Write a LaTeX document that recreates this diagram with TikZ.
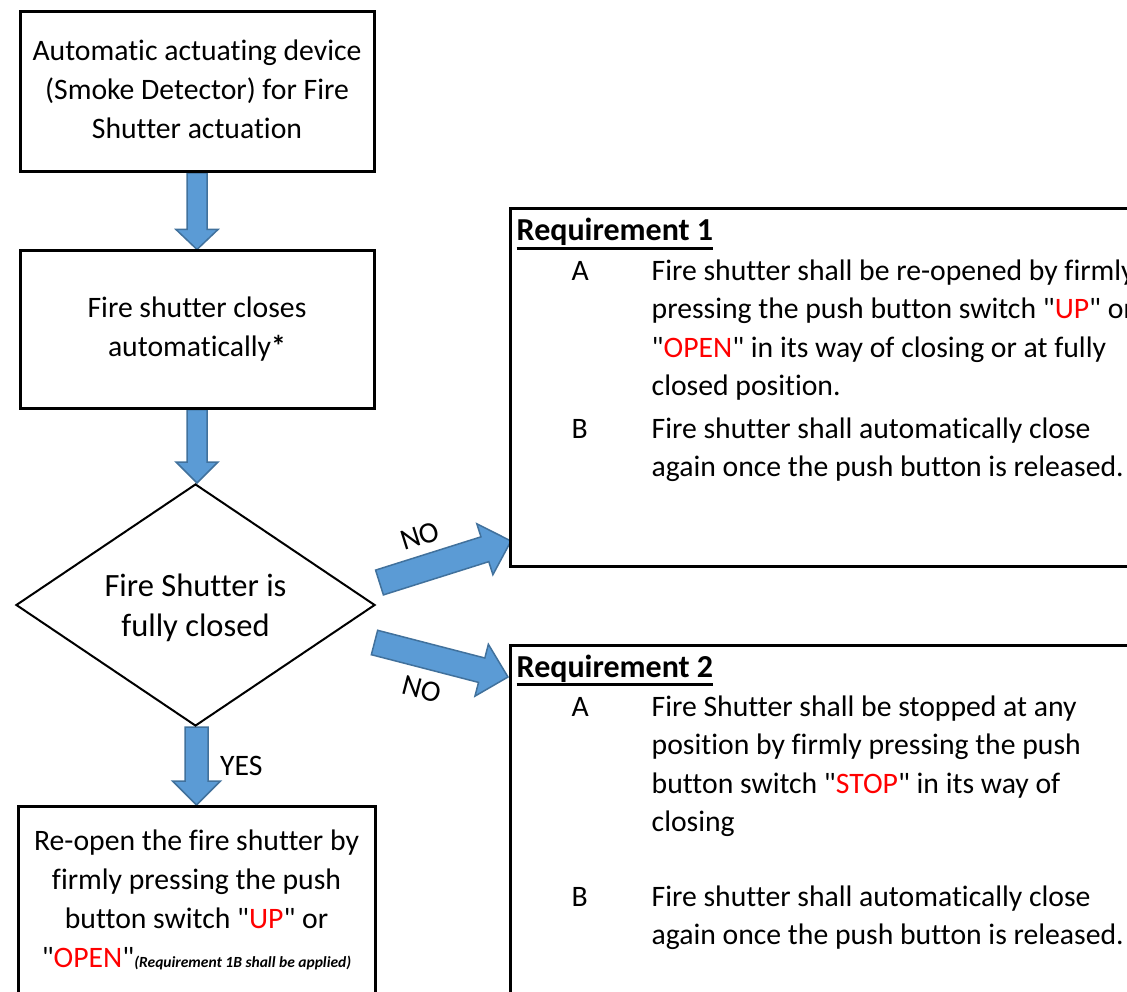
\documentclass[tikz,border=0pt]{standalone}
\usepackage{fontspec}
\setmainfont{Carlito}[Ligatures={TeXOff,NoCommon}]
\usetikzlibrary{shapes.geometric,calc}
\definecolor{arrfill}{HTML}{5B9BD5}
\definecolor{arredge}{HTML}{41719C}
\pgfdeclarelayer{bg}
\pgfsetlayers{bg,main}
% #1 start, #2 end, #3 half shaft width, #4 half head width, #5 head length
\newcommand\blockarrow[5]{%
  \begin{pgfonlayer}{bg}
  \coordinate (bah) at ($(#2)!#5!(#1)$);
  \draw[blockarr] ($(#1)!#3!90:(#2)$) -- ($(bah)!#3!90:(#2)$) -- ($(bah)!#4!90:(#2)$)
     -- (#2) -- ($(bah)!#4!-90:(#2)$) -- ($(bah)!#3!-90:(#2)$) -- ($(#1)!#3!-90:(#2)$) -- cycle;
  \end{pgfonlayer}}
\begin{document}
\begin{tikzpicture}[x=1pt,y=-1pt,
  box/.style={draw, line width=3pt, inner sep=0pt, align=center, font=\fontsize{29.7}{39}\selectfont},
  reqbox/.style={draw, line width=3pt, inner sep=0pt},
  lbl/.style={inner sep=0pt, font=\fontsize{29.7}{38.5}\selectfont},
  title/.style={anchor=base west, inner sep=0pt, font=\fontsize{32}{38.5}\selectfont\bfseries},
  blockarr/.style={fill=arrfill, draw=arredge, line width=1.5pt},
  uline/.style={line width=2.5pt}]
\useasboundingbox (0,0) rectangle (1127,992);

% flow boxes
\node[box, minimum width=354, minimum height=160] (b1) at (197,91.5)
  {\strut Automatic actuating device\\(Smoke Detector) for Fire\\Shutter actuation\strut};
\node[box, minimum width=354, minimum height=157] (b2) at (197,329.5)
  {\strut Fire shutter closes\\automatically\textbf{*}\strut};
\node[draw, diamond, aspect=1.5, line width=2pt, minimum width=359, minimum height=242,
  inner sep=0pt, align=center, font=\fontsize{32.5}{40}\selectfont] (dm) at (195.5,605)
  {\strut Fire Shutter is\\fully closed};
\node[box, minimum width=357, minimum height=190] (b3) at (196.5,901.5)
  {\strut Re-open the fire shutter by\\firmly pressing the push\\button switch "\textcolor{red}{UP}" or\\"\textcolor{red}{OPEN}"{\fontsize{15.5}{17}\selectfont\bfseries\itshape(Requirement 1B shall be applied)}\strut};

% requirement boxes
\node[reqbox, minimum width=640, minimum height=357] (r1) at (830,387.5) {};
\node[reqbox, minimum width=640, minimum height=365] (r2) at (830,827.5) {};

\node[title] (t1) at (516.5,241) {Requirement 1};
\draw[uline] ([yshift=-7.5pt]t1.base west) -- ([yshift=-7.5pt]t1.base east);
\node[lbl, anchor=base west] (r1t) at (571.5,280.5) {\begin{tabular}[t]{@{}p{80pt}@{}l@{}}
A & Fire shutter shall be re-opened by firmly\\
  & pressing the push button switch "\textcolor{red}{UP}" or\\
  & "\textcolor{red}{OPEN}" in its way of closing or at fully\\
  & closed position.\\[4pt]
B & Fire shutter shall automatically close\\
  & again once the push button is released.
\end{tabular}};

\node[title] (t2) at (516.5,677) {Requirement 2};
\draw[uline] ([yshift=-7.5pt]t2.base west) -- ([yshift=-7.5pt]t2.base east);
\node[lbl, anchor=base west] (r2t) at (571.5,716) {\begin{tabular}[t]{@{}p{80pt}@{}l@{}}
A & Fire Shutter shall be stopped at any\\
  & position by firmly pressing the push\\
  & button switch "\textcolor{red}{STOP}" in its way of\\
  & closing\\
  & \\[-2.5pt]
B & Fire shutter shall automatically close\\
  & again once the push button is released.
\end{tabular}};

% arrows
\coordinate (a2e) at (b2.south |- dm.north);
\coordinate (a3s) at (b3.north |- dm.south);
\blockarrow{b1.south}{b2.north}{10pt}{21pt}{20pt}
\blockarrow{b2.south}{a2e}{10pt}{21pt}{21pt}
\blockarrow{a3s}{b3.north}{11.5pt}{24pt}{24pt}
\coordinate (n1s) at (379.5,582.5);
\coordinate (n1e) at (511,541);
\coordinate (n2s) at (374.5,642.5);
\coordinate (n2e) at (508,677);
\blockarrow{n1s}{n1e}{13pt}{26.7pt}{27.4pt}
\blockarrow{n2s}{n2e}{12.6pt}{26.8pt}{27.2pt}

\node[lbl, rotate=17.5] (no1) at (420,536) {NO};
\node[lbl, rotate=-14.5] (no2) at (421.5,689) {NO};
\node[lbl, anchor=base west] (yes) at (220,775) {YES};
\end{tikzpicture}
\end{document}
